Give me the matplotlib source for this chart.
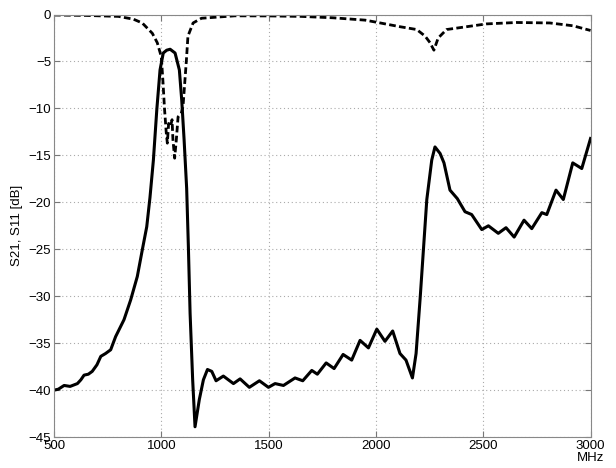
import matplotlib.pyplot as plt
import numpy as np

plt.rcParams['font.family'] = ['Liberation Sans', 'DejaVu Sans']

# S21 (solid)
f21 = [500, 520, 547, 575, 609, 625, 640, 660, 678, 700, 718, 740, 764, 787, 826, 857,
       888, 911, 932, 947, 963, 979, 994, 1009, 1025, 1041, 1064, 1084, 1095, 1106,
       1118, 1126, 1134, 1146, 1157, 1177, 1196, 1215, 1235, 1255, 1289, 1336, 1367,
       1410, 1457, 1499, 1530, 1569, 1623, 1659, 1701, 1727, 1768, 1805, 1847, 1887,
       1926, 1965, 2004, 2042, 2078, 2112, 2140, 2170, 2187, 2206, 2237, 2260, 2275,
       2299, 2317, 2345, 2379, 2415, 2446, 2493, 2524, 2570, 2606, 2644, 2690, 2726,
       2773, 2796, 2839, 2873, 2917, 2959, 3000]
s21 = [-40.0, -39.9, -39.5, -39.6, -39.3, -38.9, -38.4, -38.3, -38.0, -37.3, -36.4, -36.1,
       -35.7, -34.3, -32.5, -30.4, -27.9, -25.1, -22.6, -19.5, -15.5, -10.1, -5.9, -4.1,
       -3.8, -3.7, -4.1, -5.9, -9.1, -13.3, -18.5, -24.7, -31.8, -38.9, -43.9, -41.0,
       -38.9, -37.8, -38.0, -39.0, -38.5, -39.3, -38.8, -39.7, -39.0, -39.7, -39.3,
       -39.5, -38.7, -39.0, -37.9, -38.3, -37.1, -37.7, -36.2, -36.8, -34.7, -35.5,
       -33.5, -34.8, -33.7, -36.1, -36.8, -38.7, -36.1, -30.2, -19.7, -15.5, -14.1,
       -14.8, -15.8, -18.7, -19.6, -21.0, -21.3, -22.9, -22.5, -23.3, -22.7, -23.7,
       -21.9, -22.8, -21.1, -21.3, -18.7, -19.7, -15.8, -16.4, -13.2]

# S11 (dashed)
f11 = [500, 650, 800, 870, 911, 958, 981, 1000, 1008, 1015, 1023, 1028, 1034, 1043, 1050,
       1054, 1062, 1070, 1078, 1093, 1101, 1109, 1117, 1124, 1148, 1187, 1342, 1500,
       1650, 1800, 1950, 2020, 2112, 2190, 2229, 2252, 2270, 2290, 2329, 2422, 2515,
       2655, 2810, 2918, 3000]
s11 = [-0.05, -0.1, -0.2, -0.5, -0.9, -2.0, -3.0, -4.5, -7.3, -10.1, -12.6, -13.7, -11.6,
       -11.9, -11.2, -13.3, -15.3, -13.3, -10.9, -10.5, -9.8, -7.3, -4.8, -2.3, -0.9,
       -0.4, -0.14, -0.15, -0.2, -0.35, -0.6, -0.9, -1.3, -1.6, -2.3, -3.0, -3.8, -2.5,
       -1.6, -1.3, -1.0, -0.85, -0.9, -1.2, -1.7]

fig = plt.figure(figsize=(6.16, 4.68), dpi=100)
ax = fig.add_axes([0.0877, 0.066, 0.871, 0.903])

ax.plot(f21, s21, color='black', lw=2.2, solid_joinstyle='round')
ax.plot(f11, s11, color='black', lw=2.0, linestyle=(0, (2.4, 1.2)))

ax.set_xlim(500, 3000)
ax.set_ylim(-45, 0)
ax.set_xticks(np.arange(500, 3001, 500))
ax.set_yticks(np.arange(-45, 1, 5))
ax.grid(True, linestyle=(0, (1, 2.5)), color='#aaaaaa', lw=0.8)
ax.tick_params(direction='in', top=True, right=True, labelsize=9.5, color='#777777',
               length=4, pad=2)
for s in ax.spines.values():
    s.set_color('#888888')

ax.set_ylabel('S21, S11 [dB]', fontsize=9.5, labelpad=4)
ax.text(1.0, -0.036, 'MHz', transform=ax.transAxes, ha='center', va='top', fontsize=9.5)

fig.savefig('out.png', dpi=100)
